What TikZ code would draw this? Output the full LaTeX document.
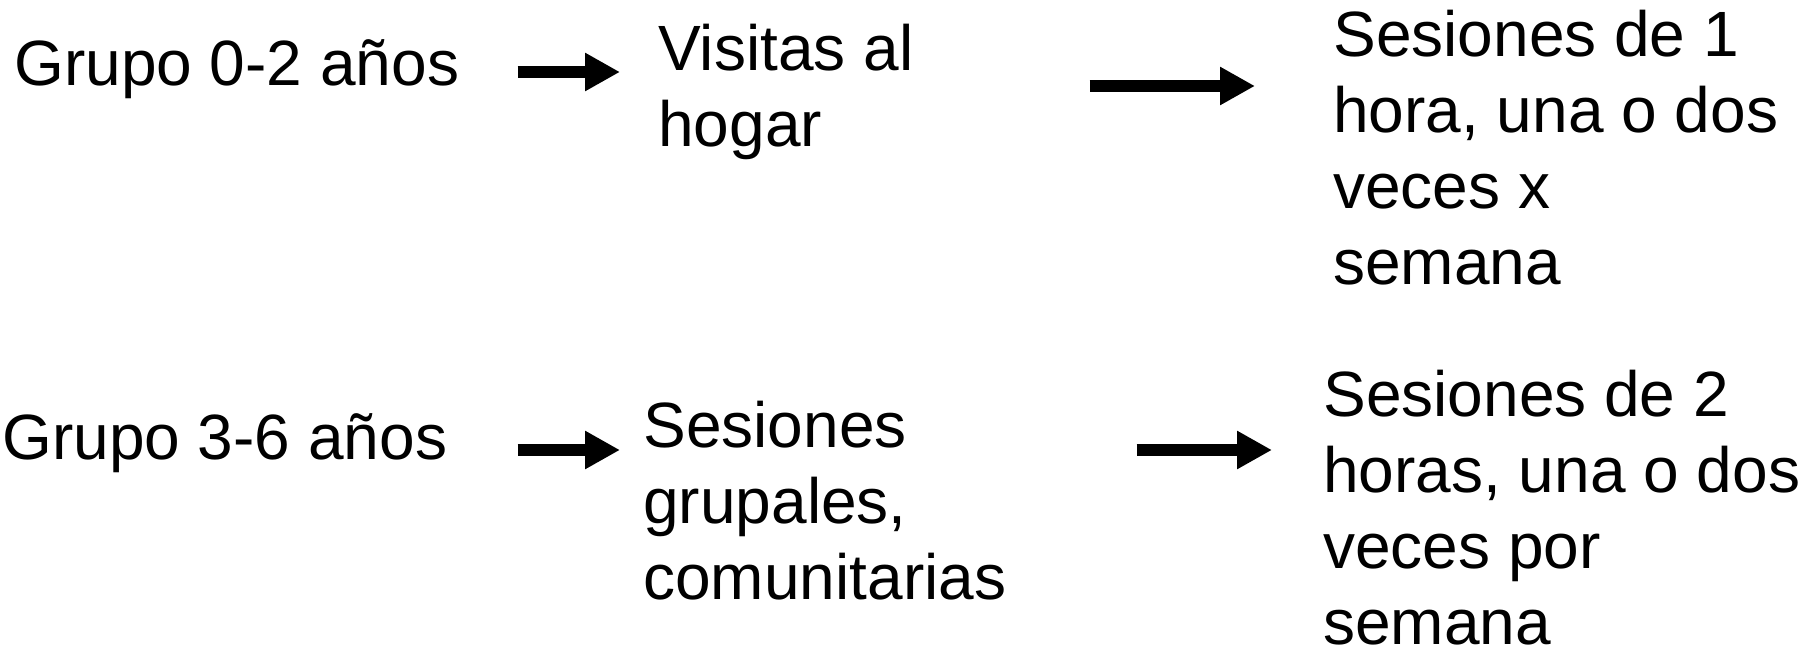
\documentclass[tikz,border=0pt]{standalone}
\usepackage{fontspec}
\setmainfont{Liberation Sans}
\usetikzlibrary{positioning,arrows.meta}

\begin{document}
\begin{tikzpicture}[x=0.5pt,y=-0.5pt,
		lbl/.style={anchor=north west,inner sep=0pt,align=left,font=\fontsize{32}{38}\selectfont},
		arr/.style={line width=6pt,-{Triangle[length=17.5pt,width=18pt]}}]
		\useasboundingbox (0,0) rectangle (1817,647);
		
		\node[lbl] (g1) at (14,39) {Grupo 0-2 años};
		\node[lbl] (v1) at (658,24) {Visitas al\\hogar};
		\node[lbl] (r1) at (1333,10) {Sesiones de 1\\hora, una o dos\\veces x\\semana};
		
		\node[lbl] (g2) at (2,413) {Grupo 3-6 años};
		\node[lbl] (s2) at (643,401) {Sesiones\\grupales,\\comunitarias};
		\node[lbl] (r2) at (1323,370) {Sesiones de 2\\horas, una o dos\\veces por\\semana};
		
		\draw[arr,shorten <=29pt,shorten >=19pt] (g1.east |- 0,72)--(v1.west |- 0,72);
		\draw[arr,shorten <=88pt,shorten >=39pt] (v1.east |- 0,86)--(r1.west |- 0,86);
		\draw[arr,shorten <=35pt,shorten >=11.5pt] (g2.east |- 0,450)--(s2.west |- 0,450);
		\draw[arr,shorten <=65pt,shorten >=25.5pt] (s2.east |- 0,450)--(r2.west |- 0,450);
	\end{tikzpicture}
\end{document}
